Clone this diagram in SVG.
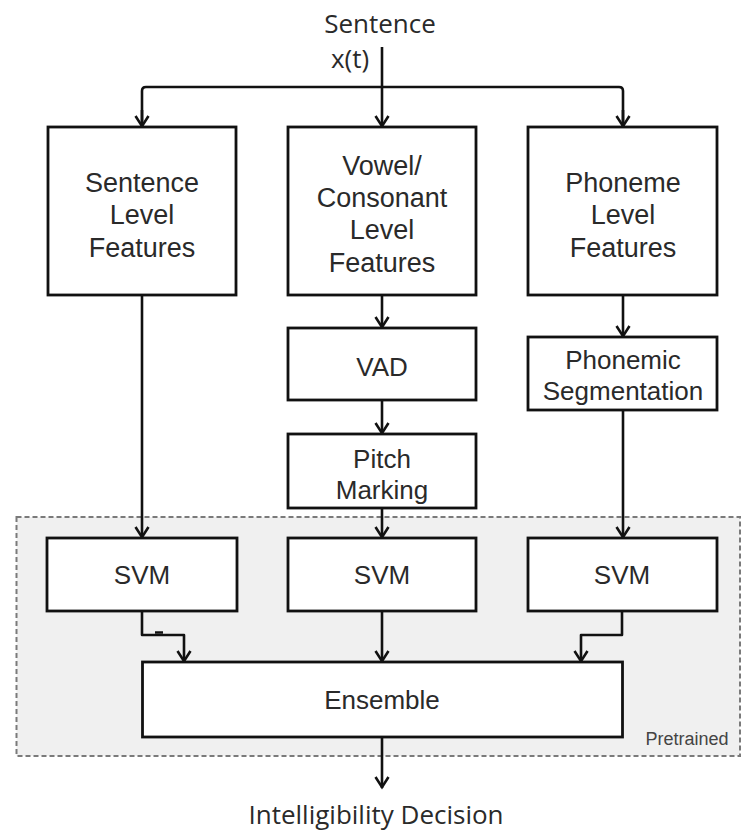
<svg xmlns="http://www.w3.org/2000/svg" width="742" height="835" viewBox="0 0 742 835">
<defs>
<marker id="arr" markerUnits="userSpaceOnUse" viewBox="-13 -8 15 16" refX="0" refY="0" markerWidth="15" markerHeight="16" orient="auto">
<path d="M-11,-6.5 L-0.8,0 L-11,6.5" fill="none" stroke="#111" stroke-width="2.6"/>
</marker>
</defs>
<style>
.box{fill:#fff;stroke:#111;stroke-width:2.8}
.t{font-family:"Liberation Sans",Arial,sans-serif;font-size:26px;fill:#2a2a2a;text-anchor:middle}
.t27{font-size:27px}
.lbl{font-family:"Open Sans","Noto Sans",sans-serif;font-size:26px;fill:#2a2a2a;text-anchor:middle}
.c{fill:none;stroke:#111;stroke-width:2.6;stroke-linejoin:round}
.ca{marker-end:url(#arr)}
</style>
<rect width="742" height="835" fill="#fff"/>
<g id="pretrained-region">
<rect x="16.5" y="517" width="723.5" height="239" fill="#f0f0f0" stroke="#7a7a7a" stroke-width="2" stroke-dasharray="5,3"/>
<text x="687" y="745" font-family="'Liberation Sans',Arial,sans-serif" font-size="18" fill="#444" text-anchor="middle">Pretrained</text>
</g>
<g id="input-label">
<text class="lbl" x="380" y="33">Sentence</text>
<text class="lbl" x="350" y="68">x(t)</text>
</g>
<g id="connectors">
<line class="c" x1="382" y1="47" x2="382" y2="87"/>
<path class="c" d="M142,127 L142,91 Q142,87 146,87 L619,87 Q623,87 623,91 L623,127"/>
<line class="c ca" x1="382" y1="87" x2="382" y2="127"/>
<line class="c ca" x1="142" y1="110" x2="142" y2="127"/>
<line class="c ca" x1="623" y1="110" x2="623" y2="127"/>
<line class="c ca" x1="142" y1="295" x2="142" y2="538"/>
<line class="c ca" x1="382" y1="295" x2="382" y2="328"/>
<line class="c ca" x1="382" y1="400" x2="382" y2="434"/>
<line class="c ca" x1="382" y1="508" x2="382" y2="538"/>
<line class="c ca" x1="623" y1="295" x2="623" y2="337"/>
<line class="c ca" x1="623" y1="410" x2="623" y2="538"/>
<path class="c ca" d="M142,611 L142,635 L184,635 L184,662"/>
<line class="c ca" x1="382" y1="611" x2="382" y2="662"/>
<path class="c ca" d="M622,611 L622,635 L581,635 L581,662"/>
<line class="c ca" x1="382" y1="737" x2="382" y2="788"/>
<line x1="155" y1="632.5" x2="163" y2="632.5" stroke="#111" stroke-width="2.5"/>
</g>
<g id="sentence-features">
<rect class="box" x="48" y="127" width="188" height="168"/>
<text class="t t27" x="142" y="192">Sentence</text>
<text class="t t27" x="142" y="224">Level</text>
<text class="t t27" x="142" y="257">Features</text>
</g>
<g id="vc-features">
<rect class="box" x="288" y="127" width="188" height="168"/>
<text class="t t27" x="382" y="175">Vowel/</text>
<text class="t t27" x="382" y="207">Consonant</text>
<text class="t t27" x="382" y="239">Level</text>
<text class="t t27" x="382" y="272">Features</text>
</g>
<g id="phoneme-features">
<rect class="box" x="528" y="127" width="189" height="168"/>
<text class="t t27" x="623" y="192">Phoneme</text>
<text class="t t27" x="623" y="224">Level</text>
<text class="t t27" x="623" y="257">Features</text>
</g>
<g id="vad">
<rect class="box" x="288" y="328" width="188" height="72"/>
<text class="t" x="382" y="376">VAD</text>
</g>
<g id="pitch-marking">
<rect class="box" x="288" y="434" width="188" height="74"/>
<text class="t" x="382" y="468">Pitch</text>
<text class="t" x="382" y="499">Marking</text>
</g>
<g id="phonemic-segmentation">
<rect class="box" x="528" y="337" width="189" height="73"/>
<text class="t" x="623" y="369">Phonemic</text>
<text class="t" x="623" y="400">Segmentation</text>
</g>
<g id="svm1">
<rect class="box" x="47" y="538" width="190" height="73"/>
<text class="t" x="142" y="584">SVM</text>
</g>
<g id="svm2">
<rect class="box" x="288" y="538" width="188" height="73"/>
<text class="t" x="382" y="584">SVM</text>
</g>
<g id="svm3">
<rect class="box" x="528" y="538" width="189" height="73"/>
<text class="t" x="622" y="584">SVM</text>
</g>
<g id="ensemble">
<rect class="box" x="142.5" y="662" width="480" height="75"/>
<text class="t" x="382" y="709">Ensemble</text>
</g>
<g id="output-label">
<text class="lbl" x="376" y="824" font-size="27">Intelligibility Decision</text>
</g>
</svg>
